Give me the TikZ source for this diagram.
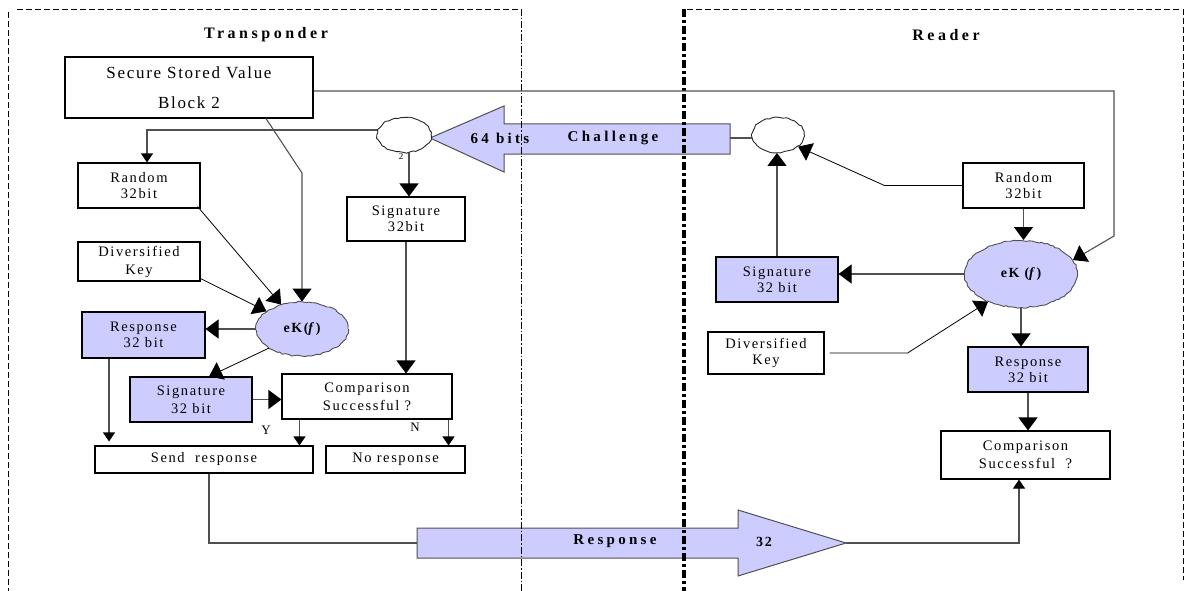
\documentclass[tikz,border=0pt]{standalone}
\usepackage{fontspec}
\setmainfont{Liberation Serif}[LetterSpace=11]
\newfontfamily\headfont{Liberation Serif}[LetterSpace=22]
\newfontfamily\ssvfont{Liberation Serif}[LetterSpace=10]
\usetikzlibrary{arrows.meta,shapes.geometric,decorations.pathmorphing,calc}
\definecolor{lav}{HTML}{CCCCFF}
\definecolor{wirecol}{HTML}{505050}
\begin{document}
\begin{tikzpicture}[x=1pt,y=-1pt,
  box/.style={draw=black,line width=1.1pt,fill=white,inner sep=0pt,align=center,
    font=\fontsize{14.5}{16}\selectfont},
  bluebox/.style={box,fill=lav},
  wide/.style={box,font=\fontsize{14.5}{18}\selectfont},
  widebl/.style={bluebox,font=\fontsize{14.5}{18}\selectfont},
  cloudnode/.style={draw=black!85,line width=0.9pt,ellipse,inner sep=0pt,fill=white,
    decorate,decoration={random steps,segment length=3pt,amplitude=0.8pt}},
  eknode/.style={cloudnode,fill=lav,draw=wirecol,font=\bfseries\fontsize{14}{14}\selectfont},
  wire/.style={draw=wirecol,line width=1.1pt},
  big/.style={wire,-{Triangle[length=13pt,width=19pt,black]}},
  small/.style={wire,-{Triangle[length=9pt,width=12pt,black]}},
  head/.style={font=\headfont\bfseries\fontsize{16}{18}\selectfont},
  arrowtext/.style={font=\headfont\bfseries\fontsize{15}{18}\selectfont},
  blockarrow/.style={fill=lav,draw=wirecol,line width=1pt},
  frameline/.style={draw=black,line width=0.9pt,dash pattern=on 6pt off 3pt},
]
\useasboundingbox (0,0) rectangle (1193,591);

% ---- block arrows: challenge (reader -> transponder) and response
\coordinate (chalTip) at (430,138);
\coordinate (chalEnd) at (730,138);
\path[blockarrow] (chalTip) -- (504,106) -- (504,124) -- (730,124) -- (730,154)
  -- (504,154) -- (504,172) -- cycle;
\node[arrowtext] (chalA) at (500,138) {64 bits};
\node[arrowtext] (chalB) at (613,138) {Challenge};

\coordinate (respTail) at (417,543);
\coordinate (respTip) at (846,543);
\path[blockarrow] (417,528) -- (738,528) -- (738,510) -- (respTip) -- (738,576)
  -- (738,558) -- (417,558) -- cycle;
\node[arrowtext] (respA) at (615,541) {Response};
\node[font=\bfseries\fontsize{14}{14}\selectfont] (respB) at (764,542) {32};

% ---- frames of the two parties
\draw[frameline] (17,9) -- (521,9);
\draw[frameline] (8,12) -- (8,591);
\draw[draw=black,line width=0.9pt,dash pattern=on 7pt off 2pt on 1.5pt off 2pt] (521,9) -- (521,591);
\draw[draw=black,line width=3.5pt,dash pattern=on 8pt off 3pt on 3pt off 3pt] (684,9) -- (684,591);
\draw[frameline] (687,9) -- (1180,9);
\draw[frameline] (1183,9) -- (1183,580);

\node[head] (tTitle) at (266,35) {Transponder};
\node[head] (rTitle) at (946,35) {Reader};

% ---- transponder side
\node[box,minimum width=248pt,minimum height=61pt,font=\ssvfont\fontsize{17}{30}\selectfont] (ssv) at (189,87.5) {Secure Stored Value\\Block 2};
\node[box,minimum width=122pt,minimum height=45pt] (randL) at (139,185.5) {Random\\32bit};
\node[box,minimum width=118pt,minimum height=44pt] (sigT) at (406,219) {Signature\\32bit};
\node[wide,minimum width=122pt,minimum height=39pt] (divL) at (139,261.5) {Diversified\\Key};
\node[eknode,minimum width=92pt,minimum height=54pt] (ekL) at (302,329) {eK(\textit{f})};
\node[bluebox,minimum width=123pt,minimum height=46pt] (respL) at (143.5,335) {Response\\32 bit};
\node[widebl,minimum width=122pt,minimum height=45pt] (sigL) at (191,399.5) {Signature\\32 bit};
\node[wide,minimum width=170pt,minimum height=45pt] (cmpL) at (367,396.5) {Comparison\\Successful ?};
\node[box,minimum width=218pt,minimum height=27pt] (sendR) at (204,459.5) {Send\ \ response};
\node[box,minimum width=139pt,minimum height=27pt] (noR) at (395.5,459.5) {No response};
\node[cloudnode,minimum width=54pt,minimum height=35pt] (cloudL) at (404,135) {};
\node[font=\fontsize{9}{9}\selectfont] (two) at (401,157) {2};
\node[font=\fontsize{13}{13}\selectfont] (yLab) at (266,430) {Y};
\node[font=\fontsize{13}{13}\selectfont] (nLab) at (415,427) {N};

% ---- reader side
\node[cloudnode,minimum width=52pt,minimum height=35pt] (cloudR) at (778,135) {};
\node[box,minimum width=121pt,minimum height=45pt] (randR) at (1023.5,185.5) {Random\\32bit};
\node[eknode,minimum width=113pt,minimum height=67pt] (ekR) at (1021,274) {eK (\textit{f})};
\node[bluebox,minimum width=122pt,minimum height=45pt] (sigR) at (777,279.5) {Signature\\32 bit};
\node[box,minimum width=116pt,minimum height=42pt] (divR) at (766,353) {Diversified\\Key};
\node[bluebox,minimum width=120pt,minimum height=45pt] (respR) at (1028,369.5) {Response\\32 bit};
\node[wide,minimum width=169pt,minimum height=48pt] (cmpR) at (1025.5,455) {Comparison\\Successful\ \ ?};

% ---- connectors, transponder side
\draw[big] ([yshift=-3.5pt]ssv.east) -- (1114,91) -- (1114,236) -- (ekR.15);
\draw[big] ([xshift=77pt]ssv.south) -- (302,173) -- (ekL.north);
\draw[small] ([yshift=5pt]cloudL.west) -| ([xshift=8pt]randL.north);
\draw[big] ([xshift=5pt]cloudL.south) -- ([xshift=5pt]cloudL.south |- sigT.north);
\draw[big,draw=black,line width=0.8pt] ([shift={(-3pt,2pt)}]randL.south east) -- (ekL);
\draw[big,draw=black,line width=0.8pt] ([yshift=3pt]divL.south east) -- (ekL);
\draw[big] (ekL.west) -- (ekL.west -| respL.east);
\draw[big,draw=black,line width=0.8pt] (ekL.210) -- ([xshift=18pt]sigL.north);
\draw[big] (sigL.east) -- (sigL.east -| cmpL.west);
\draw[big] (sigT.south) -- (sigT.south |- cmpL.north);
\draw[small] ([xshift=18pt]cmpL.south west) -- ([xshift=18pt]cmpL.south west |- sendR.north);
\draw[small] ([xshift=-4pt]cmpL.south east) -- ([xshift=-4pt]cmpL.south east |- noR.north);
\draw[small,shorten >=4pt] ([xshift=-34.5pt]respL.south) -- ([xshift=-34.5pt]respL.south |- sendR.north);
\draw[wire] ([xshift=5pt]sendR.south) |- (respTail);

% ---- connectors, reader side
\draw[wire] (chalEnd) -- (chalEnd -| cloudR.west);
\draw[big] (sigR.north) -- (sigR.north |- cloudR.south);
\draw[big,draw=black,line width=0.8pt] (randR.west) -- ([xshift=-78pt]randR.west) -- (cloudR.-30);
\draw[big] (randR.south) -- (randR.south |- ekR.north);
\draw[big] (ekR.west) -- (ekR.west -| sigR.east);
\draw[big,draw=black,line width=0.8pt] ([xshift=5pt]divR.east) -- ([xshift=83pt]divR.east) -- (ekR.220);
\draw[big] (ekR.south) -- (ekR.south |- respR.north);
\draw[big] (respR.south) -- (respR.south |- cmpR.north);
\draw[small] (respTip) -| ([xshift=-6.5pt]cmpR.south);
\end{tikzpicture}
\end{document}
